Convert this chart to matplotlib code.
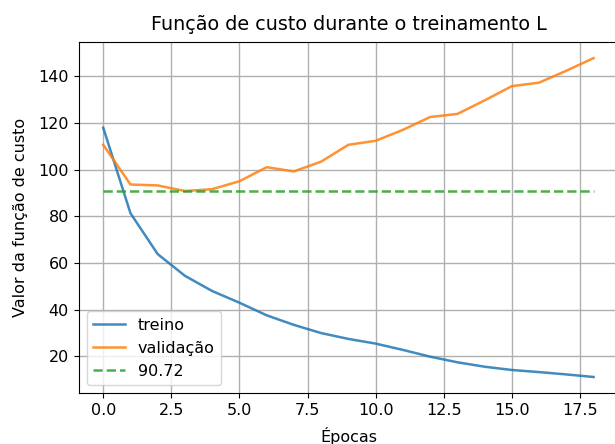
import matplotlib
matplotlib.use("Agg")
import matplotlib.pyplot as plt

epocas = list(range(19))
treino = [117.9, 81.3, 63.8, 54.5, 48.0, 43.0, 37.6, 33.5, 30.0, 27.5, 25.5,
          22.8, 19.9, 17.5, 15.6, 14.2, 13.3, 12.3, 11.2]
validacao = [110.6, 93.6, 93.2, 90.8, 91.6, 95.0, 101.0, 99.2, 103.4, 110.6, 112.3,
             117.0, 122.5, 123.8, 129.6, 135.7, 137.2, 142.3, 147.7]
limiar = 90.72

plt.rcParams['font.size'] = 11.5
plt.rcParams['lines.linewidth'] = 1.8

fig, ax = plt.subplots(figsize=(6.15, 4.44), dpi=100)
ax.plot(epocas, treino, label="treino", alpha=0.85)
ax.plot(epocas, validacao, label="validação", alpha=0.85)
ax.plot(epocas, [limiar] * len(epocas), "--", label=str(limiar), alpha=0.85)
ax.set_title("Função de custo durante o treinamento L", fontsize=13.8, pad=9)
ax.set_xlabel("Épocas", labelpad=7)
ax.set_ylabel("Valor da função de custo", labelpad=7.5)
ax.grid(True, linewidth=1.0)
ax.legend(loc="lower left")
fig.subplots_adjust(left=0.128, right=1.005, top=0.905, bottom=0.115)
fig.savefig("out.png")
